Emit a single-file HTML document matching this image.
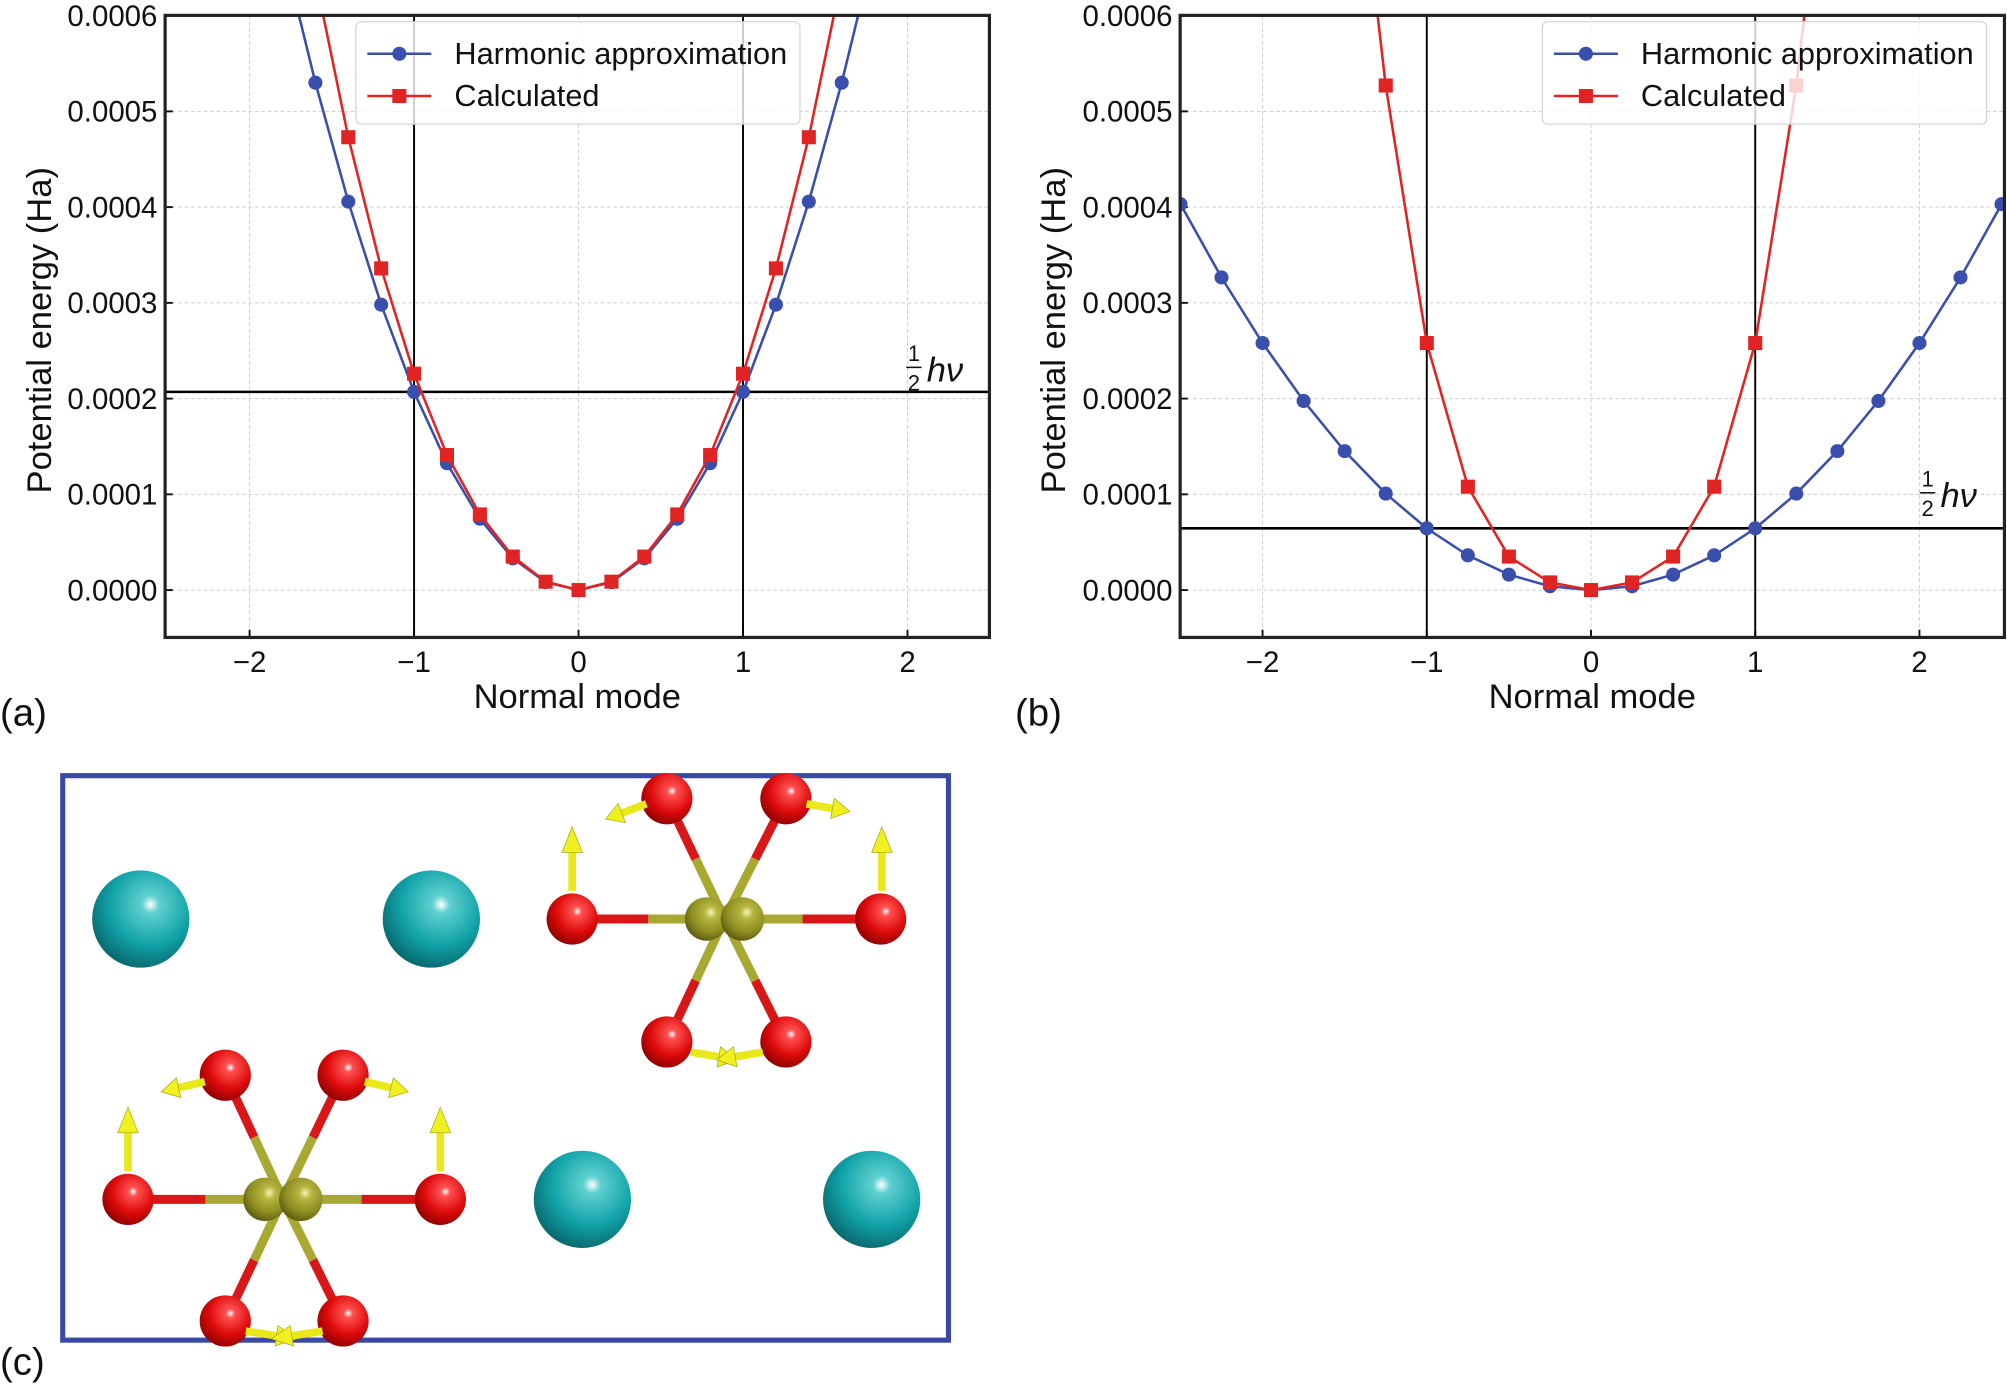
<!DOCTYPE html>
<html><head><meta charset="utf-8"><style>
html,body{margin:0;padding:0;background:#fff}
svg{display:block}
text{font-family:"Liberation Sans",Arial,sans-serif;fill:#111}
</style></head><body>
<svg id="s" width="2007" height="1384" viewBox="0 0 1568 1081.25" xmlns="http://www.w3.org/2000/svg">
<defs>
<radialGradient id="gt" cx="0.6" cy="0.35" r="0.75"><stop offset="0" stop-color="#ffffff"/><stop offset="0.12" stop-color="#5fd0d0"/><stop offset="0.55" stop-color="#11a3a8"/><stop offset="1" stop-color="#06585c"/></radialGradient>
<radialGradient id="gr" cx="0.6" cy="0.35" r="0.75"><stop offset="0" stop-color="#ffffff"/><stop offset="0.12" stop-color="#ff5050"/><stop offset="0.55" stop-color="#dd0a0a"/><stop offset="1" stop-color="#7a0000"/></radialGradient>
<radialGradient id="go" cx="0.6" cy="0.35" r="0.75"><stop offset="0" stop-color="#f4f4b0"/><stop offset="0.2" stop-color="#b5b540"/><stop offset="0.6" stop-color="#8e8e22"/><stop offset="1" stop-color="#4b4b08"/></radialGradient>
<clipPath id="ca"><rect x="129" y="12" width="644" height="486"/></clipPath>
<clipPath id="cb"><rect x="922" y="12" width="644" height="486"/></clipPath>
</defs>
<g id="g"></g>
</svg>
<script>
var NS="http://www.w3.org/2000/svg",G=document.getElementById('g');
function el(t,a,p,txt){if(typeof p==='string'){txt=p;p=null;}var e=document.createElementNS(NS,t);for(var k in a)e.setAttribute(k,a[k]);if(txt!==undefined)e.textContent=txt;(p||G).appendChild(e);return e;}
function panel(L,R,x0,ux,clip,harm,calc,hv,lbl,hvx,hvy,legX){
  var T=12,B=498,y0=461,uy=748000;
  var X=function(v){return x0+ux*v},Y=function(e){return y0-uy*e};
  for(var v=-2;v<=2;v++){el('line',{x1:X(v),x2:X(v),y1:T,y2:B,stroke:'#cfcfcf','stroke-width':0.8,'stroke-dasharray':'3,2'});}
  for(var i=0;i<=6;i++){var yy=Y(i*0.0001);el('line',{x1:L,x2:R,y1:yy,y2:yy,stroke:'#cfcfcf','stroke-width':0.8,'stroke-dasharray':'3,2'});
    el('text',{x:L-6,y:yy+8,'text-anchor':'end','font-size':23},(i*0.0001).toFixed(4));
    el('line',{x1:L,x2:L+6,y1:yy,y2:yy,stroke:'#111','stroke-width':1.5});}
  for(var v=-2;v<=2;v++){el('text',{x:X(v),y:B+27,'text-anchor':'middle','font-size':23},v<0?'\u2212'+(-v):''+v);
    el('line',{x1:X(v),x2:X(v),y1:B,y2:B-6,stroke:'#111','stroke-width':1.5});}
  var g=el('g',{'clip-path':'url(#'+clip+')'});
  el('line',{x1:X(-1),x2:X(-1),y1:T,y2:B,stroke:'#000','stroke-width':1.5},g);
  el('line',{x1:X(1),x2:X(1),y1:T,y2:B,stroke:'#000','stroke-width':1.5},g);
  el('line',{x1:L,x2:R,y1:Y(hv),y2:Y(hv),stroke:'#000','stroke-width':2},g);
  function series(pts,col,sq){
    var d=pts.map(function(p,i){return (i?'L':'M')+X(p[0]).toFixed(1)+','+Y(p[1]).toFixed(1)}).join('');
    el('path',{d:d,fill:'none',stroke:col,'stroke-width':2},g);
    pts.forEach(function(p){var x=X(p[0]),y=Y(p[1]);
      if(sq)el('rect',{x:x-5.5,y:y-5.5,width:11,height:11,fill:col},g);else el('circle',{cx:x,cy:y,r:5.5,fill:col},g);});
  }
  series(harm,'#3a4fab',false);series(calc,'#e02424',true);
  el('rect',{x:legX,y:17,width:347,height:80,rx:4,fill:'#fff','fill-opacity':0.8,stroke:'#d5d5d5','stroke-width':1});
  el('line',{x1:legX+9,x2:legX+59,y1:42,y2:42,stroke:'#3a4fab','stroke-width':2});el('circle',{cx:legX+34,cy:42,r:5.5,fill:'#3a4fab'});
  el('line',{x1:legX+9,x2:legX+59,y1:75,y2:75,stroke:'#e02424','stroke-width':2});el('rect',{x:legX+28.5,y:69.5,width:11,height:11,fill:'#e02424'});
  el('text',{x:legX+77,y:50,'font-size':24},'Harmonic approximation');
  el('text',{x:legX+77,y:83,'font-size':24},'Calculated');
  el('rect',{x:L,y:T,width:R-L,height:B-T,fill:'none',stroke:'#222','stroke-width':2.5});
  el('text',{x:(L+R)/2,y:553,'text-anchor':'middle','font-size':27},'Normal mode');
  el('text',{x:0,y:0,'text-anchor':'middle','font-size':27,transform:'translate('+(lbl+10)+',258) rotate(-90)'},'Potential energy (Ha)');
  el('text',{x:hvx,y:hvy-12,'font-size':17,'text-anchor':'middle'},'1');
  el('line',{x1:hvx-6,x2:hvx+6,y1:hvy-7,y2:hvy-7,stroke:'#111','stroke-width':1.2});
  el('text',{x:hvx,y:hvy+11,'font-size':17,'text-anchor':'middle'},'2');
  el('text',{x:hvx+10,y:hvy+4,'font-size':27,'font-style':'italic','font-family':'DejaVu Sans'},'h\u03bd');
}
var ka=0.000207,ha=[],ca=[],cv=[[0.2,0.0000088],[0.4,0.000035],[0.6,0.000079],[0.8,0.000141],[1.0,0.000226],[1.2,0.000336],[1.4,0.000473],[1.6,0.00064]];
for(var i=-9;i<=9;i++){var v=i*0.2;ha.push([v,ka*v*v]);}
cv.slice().reverse().forEach(function(p){ca.push([-p[0],p[1]])});ca.push([0,0]);cv.forEach(function(p){ca.push(p)});
panel(129,773,452,128.5,'ca',ha,ca,0.000207,30,714,294,278);
var kb=0.0000645,hb=[],cb=[],cbv=[[0.25,0.000008],[0.5,0.000035],[0.75,0.000108],[1,0.000258],[1.25,0.000527],[1.5,0.0009]];
for(var i=-10;i<=10;i++){var v=i*0.25;hb.push([v,kb*v*v]);}
cbv.slice().reverse().forEach(function(p){cb.push([-p[0],p[1]])});cb.push([0,0]);cbv.forEach(function(p){cb.push(p)});
panel(922,1566,1243,128.3,'cb',hb,cb,0.0000645,822,1506,392,1205);
el('text',{x:0,y:567,'font-size':30},'(a)');
el('text',{x:793,y:567,'font-size':30},'(b)');
el('text',{x:0,y:1074,'font-size':30},'(c)');
el('rect',{x:49,y:606,width:692,height:441,fill:'none',stroke:'#3a48a8','stroke-width':4});
function bond(x1,y1,x2,y2){var mx=(x1+x2)/2,my=(y1+y2)/2;
  el('line',{x1:x1,y1:y1,x2:mx,y2:my,stroke:'#a8a832','stroke-width':7});
  el('line',{x1:mx,y1:my,x2:x2,y2:y2,stroke:'#d81818','stroke-width':7});}
function arrow(x,y,dx,dy){var L=Math.hypot(dx,dy),ux=dx/L,uy=dy/L,px=-uy,py=ux;
  var hx=x+dx*0.6,hy=y+dy*0.6;
  el('line',{x1:x,y1:y,x2:hx,y2:hy,stroke:'#e8e81a','stroke-width':6});
  el('polygon',{points:(x+dx)+','+(y+dy)+' '+(hx+px*8)+','+(hy+py*8)+' '+(hx-px*8)+','+(hy-py*8),fill:'#f0f020',stroke:'#a0a010','stroke-width':0.5});}
function oct(cx,cy,O){
  O.forEach(function(o){bond(cx,cy,o[0],o[1]);});
  O.forEach(function(o){el('circle',{cx:o[0],cy:o[1],r:20,fill:'url(#gr)'});});
  el('circle',{cx:cx-14,cy:cy,r:17,fill:'url(#go)'});el('circle',{cx:cx+14,cy:cy,r:17,fill:'url(#go)'});
}
oct(566,718,[[447,718],[688,718],[521,624],[614,624],[521,814],[614,814]]);
arrow(447,696,0,-50);arrow(689,696,0,-50);arrow(505,628,-32,12);arrow(630,628,34,6);arrow(540,822,36,6);arrow(596,822,-36,6);
oct(221,937,[[100,937],[344,937],[176,840],[268,840],[176,1032],[268,1032]]);
arrow(100,915,0,-50);arrow(344,915,0,-50);arrow(160,845,-34,8);arrow(285,845,34,8);arrow(192,1040,40,6);arrow(252,1040,-40,6);
[[110,718],[337,718],[455,937],[681,937]].forEach(function(c){el('circle',{cx:c[0],cy:c[1],r:38,fill:'url(#gt)'});});
</script>
</body></html>
